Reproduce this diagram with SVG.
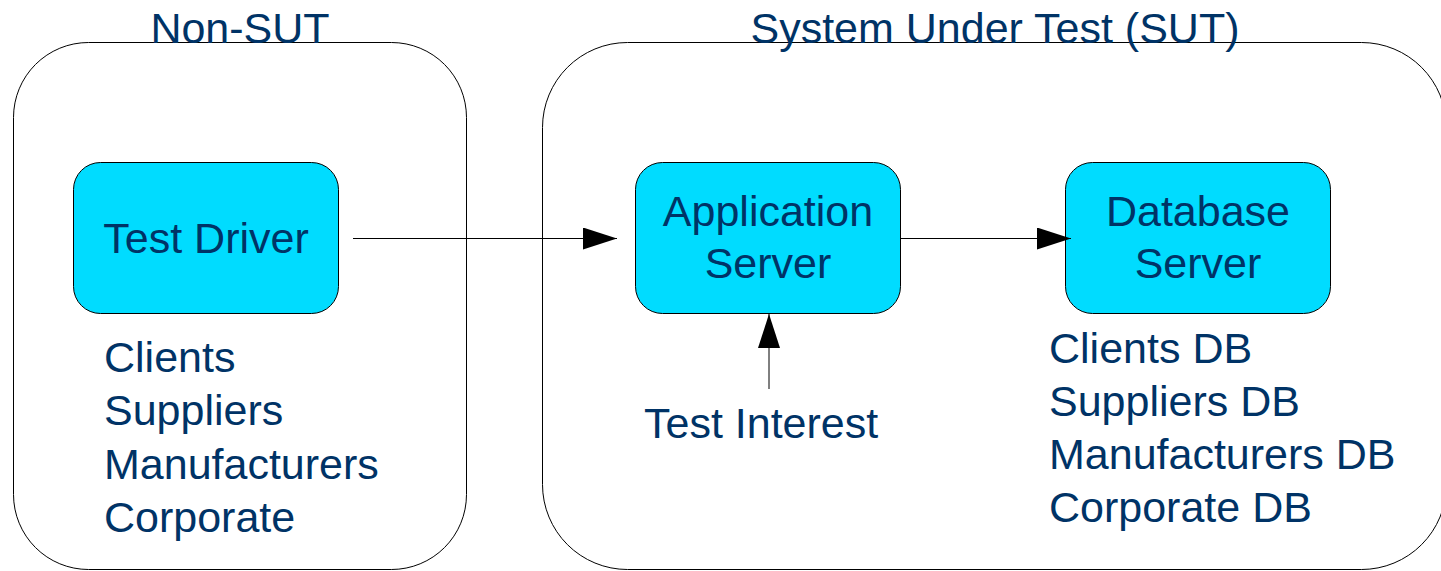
<svg xmlns="http://www.w3.org/2000/svg" width="1441" height="571" viewBox="0 0 1441 571">
  <style>
    .zone { fill: #ffffff; stroke: #000000; stroke-width: 1; }
    .node { fill: #00DCFF; stroke: #000000; stroke-width: 1; }
    .lbl { font-family: "Liberation Sans", Arial, sans-serif; font-size: 43px; fill: #003366; }
    .mid { text-anchor: middle; }
    .edge { stroke: #000000; stroke-width: 1; fill: none; marker-end: url(#head); }
  </style>
  <defs>
    <marker id="head" markerUnits="userSpaceOnUse" markerWidth="34" markerHeight="22" refX="34" refY="11" orient="auto">
      <path d="M0,0 L34,11 L0,22 Z" fill="#000000"/>
    </marker>
  </defs>
  <rect width="1441" height="571" fill="#ffffff"/>

  <!-- Containers -->
  <g id="non-sut">
    <rect class="zone" x="13.5" y="42.5" width="453" height="527" rx="75" ry="75"/>
    <text class="lbl mid" x="240" y="43">Non-SUT</text>
    <text class="lbl" x="104" y="372">Clients</text>
    <text class="lbl" x="104" y="425">Suppliers</text>
    <text class="lbl" x="104" y="479">Manufacturers</text>
    <text class="lbl" x="104" y="532">Corporate</text>
  </g>
  <g id="sut">
    <rect class="zone" x="542.5" y="42.5" width="904" height="527" rx="85" ry="85"/>
    <text class="lbl mid" x="995" y="43">System Under Test (SUT)</text>
    <text class="lbl" x="644" y="438">Test Interest</text>
    <text class="lbl" x="1049" y="363">Clients DB</text>
    <text class="lbl" x="1049" y="416">Suppliers DB</text>
    <text class="lbl" x="1049" y="469">Manufacturers DB</text>
    <text class="lbl" x="1049" y="522">Corporate DB</text>
  </g>

  <!-- Nodes -->
  <g id="test-driver">
    <rect class="node" x="73.5" y="162.5" width="265" height="151" rx="27" ry="27"/>
    <text class="lbl mid" x="206" y="253">Test Driver</text>
  </g>
  <g id="application-server">
    <rect class="node" x="635.5" y="162.5" width="265" height="151" rx="27" ry="27"/>
    <text class="lbl mid" x="768" y="226">Application</text>
    <text class="lbl mid" x="768" y="278">Server</text>
  </g>
  <g id="database-server">
    <rect class="node" x="1065.5" y="162.5" width="265" height="151" rx="27" ry="27"/>
    <text class="lbl mid" x="1198" y="226">Database</text>
    <text class="lbl mid" x="1198" y="278">Server</text>
  </g>

  <!-- Connectors -->
  <g id="connectors">
    <line class="edge" x1="353" y1="238.5" x2="617" y2="238.5"/>
    <line class="edge" x1="900" y1="238.5" x2="1071" y2="238.5"/>
    <line class="edge" x1="769" y1="389" x2="769" y2="314"/>
  </g>
</svg>
